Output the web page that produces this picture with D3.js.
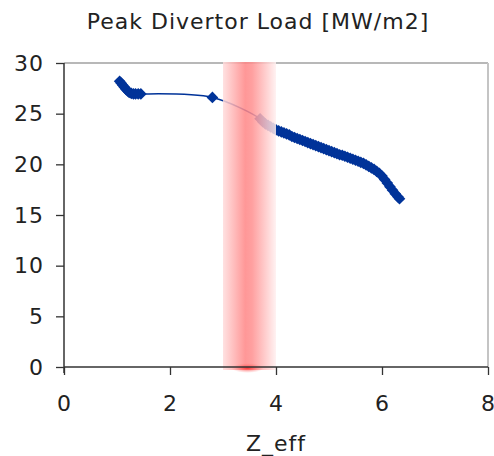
<!DOCTYPE html>
<html>
<head>
<meta charset="utf-8">
<script src="https://cdn.jsdelivr.net/npm/d3@7"></script>
<style>
  body { margin: 0; background: #fff; }
  text { font-family: "DejaVu Sans", Verdana, sans-serif; fill: #222; }
</style>
</head>
<body>
<svg id="chart" width="494" height="456"></svg>
<script>
// data
var zeff = [1.05, 1.08, 1.11, 1.14, 1.17, 1.20, 1.23, 1.27, 1.31, 1.35, 1.40, 1.45,
  2.80,
  3.70, 3.75, 3.80, 3.85, 3.90, 3.95, 4.00, 4.05, 4.10, 4.15, 4.20, 4.25, 4.30, 4.35, 4.40, 4.45,
  4.50, 4.55, 4.60, 4.65, 4.70, 4.75, 4.80, 4.85, 4.90, 4.95, 5.00, 5.05, 5.10, 5.15, 5.20, 5.25,
  5.30, 5.35, 5.40, 5.45, 5.50, 5.55, 5.60, 5.65, 5.70, 5.75, 5.80, 5.85, 5.90, 5.95, 6.00, 6.05,
  6.10, 6.15, 6.20, 6.25, 6.30, 6.33];
var load = [28.2, 28.0, 27.8, 27.6, 27.4, 27.25, 27.1, 27.0, 26.95, 26.95, 26.95, 26.95,
  26.6,
  24.5, 24.2, 24.0, 23.85, 23.7, 23.55, 23.4, 23.3, 23.2, 23.1, 23.0, 22.9, 22.75, 22.65, 22.55, 22.45,
  22.35, 22.25, 22.15, 22.05, 21.95, 21.85, 21.75, 21.65, 21.55, 21.45, 21.35, 21.25, 21.15, 21.05, 20.95, 20.9,
  20.8, 20.7, 20.6, 20.5, 20.4, 20.3, 20.2, 20.1, 19.95, 19.8, 19.65, 19.5, 19.3, 19.1, 18.85, 18.5,
  18.15, 17.8, 17.45, 17.1, 16.8, 16.6];
var xTicks = [0, 2, 4, 6, 8];
var yTicks = [0, 5, 10, 15, 20, 25, 30];
var band = [3, 4];

var svg = d3.select("#chart");
var pLeft = 64, pRight = 488, pTop = 63, pBottom = 367;

var x = d3.scaleLinear().domain([0, 8]).range([pLeft, pRight]);
var y = d3.scaleLinear().domain([0, 30]).range([pBottom, pTop]);

var pts = zeff.map(function(d, i) { return [d, load[i]]; });

// gradients for the shaded band
var defs = svg.append("defs");
var g = defs.append("linearGradient").attr("id", "bandGrad")
  .attr("x1", "0").attr("x2", "1").attr("y1", "0").attr("y2", "0");
g.append("stop").attr("offset", "0").attr("stop-color", "#ffdcdc").attr("stop-opacity", 0.85);
g.append("stop").attr("offset", "0.42").attr("stop-color", "#ff8585").attr("stop-opacity", 0.85);
g.append("stop").attr("offset", "0.55").attr("stop-color", "#ff8f8f").attr("stop-opacity", 0.85);
g.append("stop").attr("offset", "1").attr("stop-color", "#fff0f0").attr("stop-opacity", 0.85);

var rg = defs.append("radialGradient").attr("id", "spotGrad");
rg.append("stop").attr("offset", "0").attr("stop-color", "#ff2a2a").attr("stop-opacity", 0.9);
rg.append("stop").attr("offset", "1").attr("stop-color", "#ff8080").attr("stop-opacity", 0);

// frame (top and right)
svg.append("line")
  .attr("x1", pLeft).attr("y1", pTop).attr("x2", pRight).attr("y2", pTop)
  .attr("stroke", "#b8b8b8").attr("stroke-width", 2);
svg.append("line")
  .attr("x1", pRight).attr("y1", pTop).attr("x2", pRight).attr("y2", pBottom)
  .attr("stroke", "#c4c4c4").attr("stroke-width", 2);

// the curve
svg.append("path")
  .datum(pts)
  .attr("d", d3.line().x(function(d) { return x(d[0]); }).y(function(d) { return y(d[1]); })
    .curve(d3.curveCatmullRom))
  .attr("fill", "none")
  .attr("stroke", "#003399")
  .attr("stroke-width", 1.5);

// diamond markers
var diamond = d3.symbol().type(d3.symbolSquare).size(68);
svg.selectAll(".mk")
  .data(pts)
  .enter().append("path")
  .attr("class", "mk")
  .attr("d", diamond)
  .attr("transform", function(d) { return "translate(" + x(d[0]) + "," + y(d[1]) + ") rotate(45)"; })
  .attr("fill", "#003399");

// shaded band drawn over the curve
svg.append("rect")
  .attr("x", x(band[0]))
  .attr("y", pTop - 1)
  .attr("width", x(band[1]) - x(band[0]))
  .attr("height", pBottom - pTop + 4)
  .attr("fill", "url(#bandGrad)");
svg.append("ellipse")
  .attr("cx", x((band[0] + band[1]) / 2) - 2)
  .attr("cy", pBottom + 1)
  .attr("rx", 16)
  .attr("ry", 5)
  .attr("fill", "url(#spotGrad)");

// axes
var xAxis = svg.append("g")
  .attr("transform", "translate(0," + pBottom + ")")
  .call(d3.axisBottom(x).tickValues(xTicks).tickSize(8).tickPadding(20));
var yAxis = svg.append("g")
  .attr("transform", "translate(" + pLeft + ",0)")
  .call(d3.axisLeft(y).tickValues(yTicks).tickSize(8).tickPadding(12));
[xAxis, yAxis].forEach(function(a) {
  a.attr("font-size", 22).attr("font-family", "DejaVu Sans, Verdana, sans-serif");
  a.select(".domain").attr("stroke", "#333").attr("stroke-width", 1.5);
  a.selectAll(".tick line").attr("stroke", "#333").attr("stroke-width", 1.3);
  a.selectAll(".tick text").attr("fill", "#222").attr("letter-spacing", 1);
});
xAxis.select(".domain").attr("d", "M" + pLeft + ",0H" + pRight);
yAxis.select(".domain").attr("d", "M0," + pTop + "V" + (pBottom + 6));

// titles
svg.append("text")
  .attr("x", 258)
  .attr("y", 29)
  .attr("text-anchor", "middle")
  .attr("font-size", 22)
  .attr("letter-spacing", 1)
  .text("Peak Divertor Load [MW/m2]");

svg.append("text")
  .attr("x", 276)
  .attr("y", 451)
  .attr("text-anchor", "middle")
  .attr("font-size", 22)
  .attr("letter-spacing", 1)
  .text("Z_eff");
</script>
</body>
</html>
